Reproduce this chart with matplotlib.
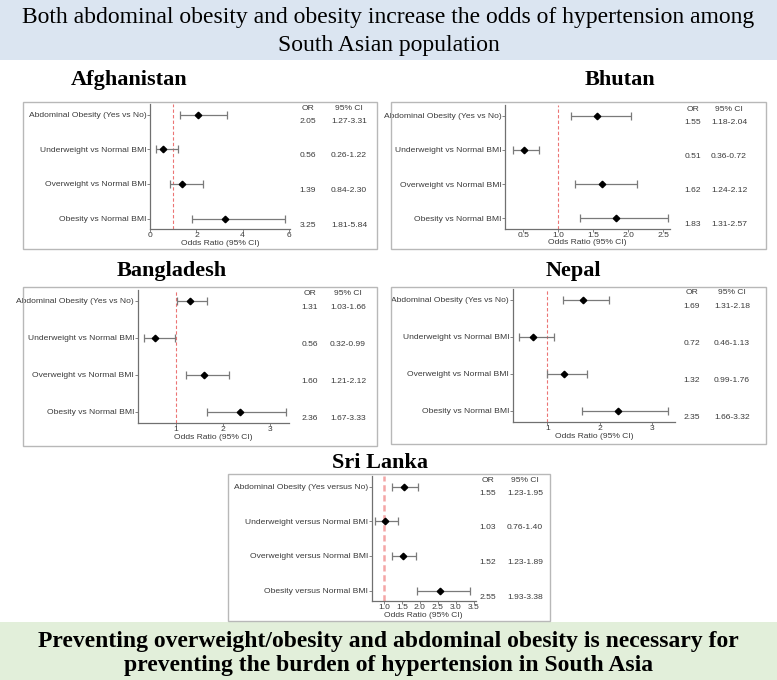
import matplotlib
matplotlib.use('Agg')
import matplotlib.pyplot as plt
from matplotlib.patches import Rectangle
from matplotlib import transforms

W, H = 777, 680

# Row labels (top to bottom)
LABELS = ['Abdominal Obesity (Yes vs No)', 'Underweight vs Normal BMI',
          'Overweight vs Normal BMI', 'Obesity vs Normal BMI']
LABELS_SL = ['Abdominal Obesity (Yes versus No)', 'Underweight versus Normal BMI',
             'Overweight versus Normal BMI', 'Obesity versus Normal BMI']

# Odds ratios with 95% CI per country
afg_or = [2.05, 0.56, 1.39, 3.25]
afg_lo = [1.27, 0.26, 0.84, 1.81]
afg_hi = [3.31, 1.22, 2.30, 5.84]

bhu_or = [1.55, 0.51, 1.62, 1.83]
bhu_lo = [1.18, 0.36, 1.24, 1.31]
bhu_hi = [2.04, 0.72, 2.12, 2.57]

ban_or = [1.31, 0.56, 1.60, 2.36]
ban_lo = [1.03, 0.32, 1.21, 1.67]
ban_hi = [1.66, 0.99, 2.12, 3.33]

nep_or = [1.69, 0.72, 1.32, 2.35]
nep_lo = [1.31, 0.46, 0.99, 1.66]
nep_hi = [2.18, 1.13, 1.76, 3.32]

sri_or = [1.55, 1.03, 1.52, 2.55]
sri_lo = [1.23, 0.76, 1.23, 1.93]
sri_hi = [1.95, 1.40, 1.89, 3.38]

TEXT = '#3a3a3a'
SPINE = '#707070'
FS = 6.1

plt.rcParams['font.family'] = ['Liberation Sans', 'DejaVu Sans']

fig = plt.figure(figsize=(W / 100, H / 100), dpi=100)
fig.patch.set_facecolor('white')


def fx(x):
    return x / W


def fy(y):
    return 1 - y / H


def add_box(x0, y0, x1, y1, color, fill=False):
    fig.patches.append(Rectangle((fx(x0), fy(y1)), fx(x1) - fx(x0), fy(y0) - fy(y1),
                                 transform=fig.transFigure, facecolor=color if fill else 'none',
                                 edgecolor='none' if fill else color, lw=1.0, zorder=0))


def forest(name, title_xy, box, ax_px, xlim, xticks, fmt, labels, orv, lo, hi,
           or_x, ci_x, thick_ref=False):
    add_box(*box, color='#b8b8b8')
    fig.text(fx(title_xy[0]), fy(title_xy[1]), name, ha='center', va='center',
             family='Liberation Serif', fontweight='bold', fontsize=16)
    left, top, right, bottom = ax_px
    ax = fig.add_axes([fx(left), fy(bottom), fx(right) - fx(left), fy(top) - fy(bottom)])
    ax.set_facecolor('none')
    rows = [4, 3, 2, 1]
    if thick_ref:
        ax.axvline(1, color='#f4a6a6', lw=1.8, ls=(0, (2.5, 1.5)), zorder=1)
    else:
        ax.axvline(1, color='#ec7474', lw=0.8, ls=(0, (3, 2)), zorder=1)
    xerr = [[o - l for o, l in zip(orv, lo)], [h - o for o, h in zip(orv, hi)]]
    ax.errorbar(orv, rows, xerr=xerr, fmt='D', color='black', ms=3.3,
                ecolor='#7a7a7a', elinewidth=0.9, capsize=3, capthick=0.9, zorder=3)
    ax.set_xlim(*xlim)
    ax.set_ylim(0.7, 4.3)
    ax.set_xticks(xticks)
    ax.set_xticklabels([fmt.format(t) for t in xticks])
    ax.set_yticks(rows)
    ax.set_yticklabels(labels)
    for s in ['top', 'right']:
        ax.spines[s].set_visible(False)
    for s in ['left', 'bottom']:
        ax.spines[s].set_color(SPINE)
        ax.spines[s].set_linewidth(0.9)
    ax.tick_params(axis='both', labelsize=FS, colors=SPINE, labelcolor=TEXT,
                   length=2, width=0.6, pad=0.5)
    ax.set_xlabel('Odds Ratio (95% CI)', fontsize=FS, color=TEXT, labelpad=0.3)

    tr = transforms.blended_transform_factory(fig.transFigure, ax.transData)
    ax.text(fx(or_x), 4.19, 'OR', transform=tr, ha='center', va='center',
            fontsize=FS, color=TEXT)
    ax.text(fx(ci_x), 4.19, '95% CI', transform=tr, ha='center', va='center',
            fontsize=FS, color=TEXT)
    for r, o, l, h in zip(rows, orv, lo, hi):
        ax.text(fx(or_x), r - 0.19, f'{o:.2f}', transform=tr, ha='center', va='center',
                fontsize=FS, color=TEXT)
        ax.text(fx(ci_x), r - 0.19, f'{l:.2f}-{h:.2f}', transform=tr, ha='center',
                va='center', fontsize=FS, color=TEXT)
    return ax


# header and footer bands
add_box(0, 0, W, 60, '#dbe5f1', fill=True)
add_box(0, 622, W, H, '#e2efda', fill=True)
fig.text(0.5, fy(18), 'Both abdominal obesity and obesity increase the odds of hypertension among',
         ha='center', va='center', family='Liberation Serif', fontsize=17)
fig.text(0.5, fy(45), 'South Asian population',
         ha='center', va='center', family='Liberation Serif', fontsize=17)
fig.text(0.5, fy(641), 'Preventing overweight/obesity and abdominal obesity is necessary for',
         ha='center', va='center', family='Liberation Serif', fontweight='bold', fontsize=17)
fig.text(0.5, fy(666), 'preventing the burden of hypertension in South Asia',
         ha='center', va='center', family='Liberation Serif', fontweight='bold', fontsize=17)

forest('Afghanistan', (129, 80), (23, 102, 377, 249), (150.3, 104.3, 290, 229),
       (0, 6.05), [0, 2, 4, 6], '{:d}', LABELS, afg_or, afg_lo, afg_hi, 308, 349)
forest('Bhutan', (620, 80), (391, 102, 766, 249), (505.3, 105.4, 670.3, 228.5),
       (0.243, 2.6), [0.5, 1.0, 1.5, 2.0, 2.5], '{:.1f}', LABELS, bhu_or, bhu_lo, bhu_hi, 693, 729)
forest('Bangladesh', (172, 271), (23, 287, 377, 446), (137.7, 289.6, 289, 422.8),
       (0.195, 3.4), [1, 2, 3], '{:d}', LABELS, ban_or, ban_lo, ban_hi, 310, 348)
forest('Nepal', (573, 271), (391, 287, 766, 444), (512.7, 288.9, 675.2, 421.7),
       (0.337, 3.45), [1, 2, 3], '{:d}', LABELS, nep_or, nep_lo, nep_hi, 692, 732)
forest('Sri Lanka', (380, 463), (228, 474, 550, 621), (371.7, 476.2, 475.7, 601),
       (0.66, 3.55), [1.0, 1.5, 2.0, 2.5, 3.0, 3.5], '{:.1f}', LABELS_SL,
       sri_or, sri_lo, sri_hi, 488, 525, thick_ref=True)

fig.savefig('out.png', dpi=100)
